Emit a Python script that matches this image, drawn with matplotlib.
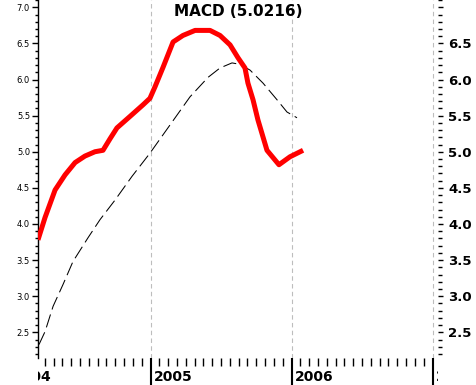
import matplotlib
matplotlib.use("Agg")
import matplotlib.pyplot as plt
from matplotlib.ticker import MultipleLocator, FixedLocator, NullFormatter
import numpy as np

# ---- data (fractional years, values) ----
macd_t = [2004.202, 2004.252, 2004.323, 2004.394, 2004.465, 2004.535, 2004.606,
          2004.663, 2004.713, 2004.762, 2004.855, 2004.947, 2004.996, 2005.032,
          2005.089, 2005.160, 2005.230, 2005.316, 2005.422, 2005.493, 2005.564,
          2005.621, 2005.670, 2005.691, 2005.727, 2005.762, 2005.826, 2005.911,
          2005.989, 2006.082]
macd_v = [3.78, 4.09, 4.47, 4.68, 4.85, 4.94, 5.00,
          5.02, 5.18, 5.33, 5.49, 5.65, 5.74, 5.90,
          6.17, 6.52, 6.61, 6.68, 6.68, 6.61, 6.48,
          6.30, 6.16, 5.95, 5.72, 5.44, 5.02, 4.82,
          4.93, 5.02]

signal_t = [2004.209, 2004.252, 2004.309, 2004.379, 2004.450, 2004.557, 2004.642,
            2004.748, 2004.869, 2004.996, 2005.138, 2005.280, 2005.408, 2005.493,
            2005.578, 2005.635, 2005.706, 2005.798, 2005.897, 2005.968, 2006.039]
signal_v = [2.33, 2.51, 2.86, 3.16, 3.48, 3.81, 4.06,
            4.33, 4.66, 4.98, 5.37, 5.76, 6.03, 6.16,
            6.23, 6.21, 6.13, 5.95, 5.72, 5.55, 5.47]

title_text = "MACD (5.0216)"
year_ticks = [2004, 2005, 2006, 2007]
year_labels = ["2004", "2005", "2006", "2007"]
y_ticks = [2.5, 3.0, 3.5, 4.0, 4.5, 5.0, 5.5, 6.0, 6.5, 7.0]
left_labels = ["2.5", "3.0", "3.5", "4.0", "4.5", "5.0", "5.5", "6.0", "6.5", "7.0"]
right_labels = ["2.5", "3.0", "3.5", "4.0", "4.5", "5.0", "5.5", "6.0", "6.5", ""]

W, H = 476, 385
PX = 72.0 / 100.0  # points per pixel at dpi 100
fig = plt.figure(figsize=(W / 100, H / 100), dpi=100)
L, R, B = 38 / W, 438 / W, 27 / H
XLIM = (2004.202, 2007.039)
YLIM = (2.144, 7.101)

ax = fig.add_axes([L, B, R - L, 1 - B])
ax.set_xlim(*XLIM)
ax.set_ylim(*YLIM)
for s in ["top", "right", "bottom"]:
    ax.spines[s].set_visible(False)
ax.spines["left"].set_linewidth(1.0 * PX * 1.4)
ax.tick_params(axis="x", bottom=False, labelbottom=False)
ax.yaxis.set_major_locator(FixedLocator(y_ticks))
ax.set_yticklabels(left_labels)
ax.yaxis.set_minor_locator(MultipleLocator(0.1))
ax.tick_params(axis="y", which="major", length=6 * PX, width=1.0 * PX * 1.4,
               labelsize=6, pad=2 * PX, colors="black")
ax.tick_params(axis="y", which="minor", length=3 * PX, width=1.0 * PX * 1.4)

for yr in year_ticks:
    ax.axvline(yr, color="#bdbdbd", lw=0.8, ls=(0, (4, 3)), zorder=1)

ax.plot(signal_t, signal_v, color="black", lw=0.75, ls=(0, (13, 5)), zorder=2)
ax.plot(macd_t, macd_v, color="#ff0000", lw=3.6, solid_joinstyle="round",
        solid_capstyle="butt", zorder=3)

# right axis
ay = ax.twinx()
ay.set_ylim(*YLIM)
for s in ay.spines.values():
    s.set_visible(False)
ay.yaxis.set_major_locator(FixedLocator(y_ticks))
ay.set_yticklabels(right_labels)
ay.yaxis.set_minor_locator(MultipleLocator(0.1))
ay.tick_params(axis="y", which="major", length=5 * PX, width=1.0 * PX * 1.4,
               pad=5 * PX)
ay.tick_params(axis="y", which="minor", length=3.5 * PX, width=1.0 * PX * 1.4)
for lab in ay.get_yticklabels():
    lab.set_fontsize(9.5)
    lab.set_fontweight("bold")

# bottom date strip
sx = fig.add_axes([L, 0, R - L, B])
sx.set_xlim(*XLIM)
sx.set_ylim(0, 1)
sx.patch.set_visible(False)
for s in sx.spines.values():
    s.set_visible(False)
minor_pos = [v for v in np.arange(2004, 2007.2, 1 / 16.0)
             if abs(v - round(v)) > 1e-6]
sx.xaxis.set_major_locator(FixedLocator([]))
sx.xaxis.set_minor_locator(FixedLocator(minor_pos))
sx.xaxis.set_minor_formatter(NullFormatter())
sx.tick_params(axis="x", which="minor", top=True, bottom=False, direction="in",
               length=8 * PX, width=1.0 * PX * 1.4)
sx.tick_params(axis="y", left=False, labelleft=False)
for yr, lab in zip(year_ticks, year_labels):
    sx.axvline(yr, color="black", lw=1.5 * PX * 1.4, zorder=2)
    sx.text(yr + 3 / 141.0, 0.15, lab, fontsize=10, fontweight="bold",
            ha="left", va="baseline", clip_on=True)

fig.text((38 + 438) / 2 / W, 1 - 4 / H, title_text, fontsize=11,
         fontweight="bold", ha="center", va="top")

fig.savefig("out.png", dpi=100)
